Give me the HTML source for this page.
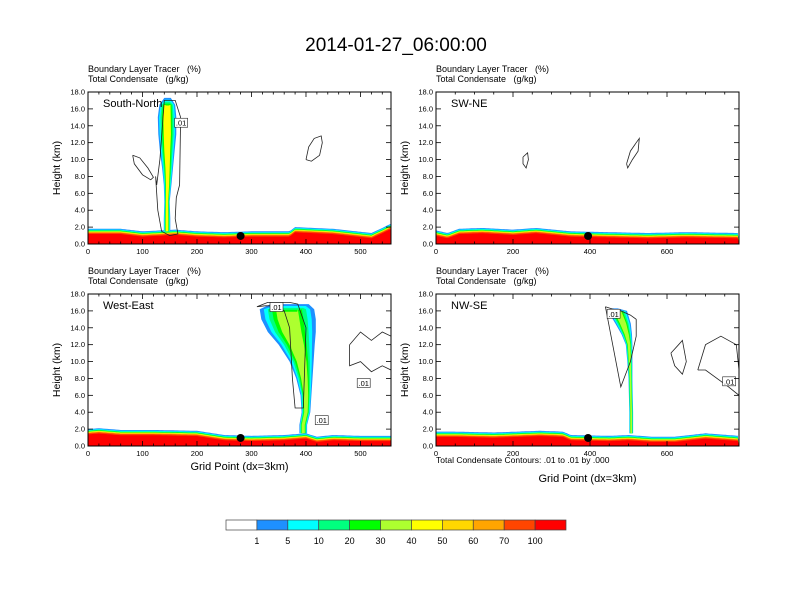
<!DOCTYPE html>
<html><head><meta charset="utf-8">
<style>
html,body{margin:0;padding:0;background:#fff;}
svg{display:block;font-family:"Liberation Sans",Arial,sans-serif;}
</style></head>
<body>
<svg id="fig" width="792" height="612" viewBox="0 0 792 612">
<text x="396" y="51" font-size="19" text-anchor="middle">2014-01-27_06:00:00</text>
<text x="436" y="463" font-size="8.5">Total Condensate Contours: .01 to .01 by .000</text>
</svg>
<script>
// ---- data ----
const colorLevels = ["1","5","10","20","30","40","50","60","70","100"];
const colorFills = ["#ffffff","#1e90ff","#00ffff","#00ff7f","#00ff00","#adff2f","#ffff00","#ffd700","#ffa500","#ff4500","#ff0000"];
const yTicks = [0,2,4,6,8,10,12,14,16,18];
const panelNames = ["South-North","SW-NE","West-East","NW-SE"];
// boundary layer top (km) sampled along grid
const tlBLx = [0,60,100,130,160,200,250,300,370,380,450,520,540,556];
const tlBL  = [1.8,1.8,1.5,1.6,1.7,1.5,1.4,1.5,1.5,2.0,1.8,1.3,1.9,2.4];
const trBLx = [0,30,60,120,200,260,350,450,550,650,787];
const trBL  = [1.6,1.3,1.8,1.9,1.7,1.9,1.5,1.4,1.3,1.4,1.3];
const blBLx = [0,20,60,120,200,250,300,360,400,420,450,500,556];
const blBL  = [2.0,2.1,1.9,1.9,1.8,1.3,1.2,1.3,1.5,1.1,1.3,1.2,1.2];
const brBLx = [0,50,150,270,330,350,450,500,560,620,700,787];
const brBL  = [1.7,1.7,1.6,1.8,1.7,1.3,1.2,1.3,1.1,1.1,1.5,1.2];
// plumes
const tlPlumeZ = [1.5,3,5,7,9,11,13,15,16.5,17.3];
const tlPlumeL = [139,139,140,139,136,132,129,128,131,140];
const tlPlumeR = [151,151,150,153,156,159,162,162,160,152];
const blPlumeZ = [1.5,2.5,4,6,8,10,12,13.5,15,16.2,16.8];
const blPlumeL = [388,388,392,390,382,370,350,330,318,315,335];
const blPlumeR = [402,402,408,410,412,414,416,418,418,415,405];
const brPlumeZ = [1.5,4,8,10,12,13.2,14.5,16,16.3];
const brPlumeL = [502,502,500,497,493,482,466,446,456];
const brPlumeR = [512,512,510,510,510,509,506,496,472];
// contours (grid, km)
const tlC1x=[400,410,425,430,428,415,405,400], tlC1z=[10,9.8,10.5,12,12.8,12.5,11.5,10];
const tlC2x=[82,95,110,120,115,100,85,82], tlC2z=[10.5,10.2,9,7.9,7.6,8.2,9.5,10.5];
const tlC3x=[126,132,140,160,170,168,162,160,165,150,135,128,124,126], tlC3z=[7,10,17,17,15,7,5.5,3,1.2,1,1.5,4,8,7];
const trC1x=[226,238,240,234,226,226], trC1z=[10.3,10.8,10,9,9.5,10.3];
const trC2x=[495,505,520,528,525,510,498,495], trC2z=[9.5,11,12,12.5,11,10,9,9.5];
const blC1x=[310,325,340,350,360,370,375,380,395,400,385,370,330,310], blC1z=[16.5,16.6,16.6,16.4,16,14,8,4.5,4.5,14,16.8,17,17,16.5];
const blC2x=[480,500,520,540,556,556,540,520,500,480,480], blC2z=[12,13.5,12.5,13.5,13,9,9.5,8.8,10,9.5,12];
const brC1x=[440,460,480,505,520,520,505,480,440], brC1z=[16.5,16.2,16,15.5,15,13,10,7,16.5];
const brC2x=[610,630,640,650,640,620,610], brC2z=[11,12,12.5,10,8.5,9.5,11];
const brC3x=[680,700,740,780,787,787,760,700,680], brC3z=[9,12,13,12,9,6,7,9,9];
const dotsX = [280,395,280,395];

// ---- helpers ----
const NS="http://www.w3.org/2000/svg";
const svg=document.getElementById('fig');
function mk(tag,attrs,parent){const e=document.createElementNS(NS,tag);for(const k in attrs)e.setAttribute(k,attrs[k]);(parent||svg).appendChild(e);return e;}
function interp(xs,ys,x){if(x<=xs[0])return ys[0];for(let i=1;i<xs.length;i++){if(x<=xs[i]){const t=(x-xs[i-1])/(xs[i]-xs[i-1]);return ys[i-1]+t*(ys[i]-ys[i-1]);}}return ys[ys.length-1];}

const panels=[
 {x0:88,y0:92,xmax:556,major:100,minor:20,blx:tlBLx,bl:tlBL,pz:tlPlumeZ,pl:tlPlumeL,pr:tlPlumeR,cont:[[tlC1x,tlC1z],[tlC2x,tlC2z],[tlC3x,tlC3z]],xl:false,lab:[[170,14.3]]},
 {x0:436,y0:92,xmax:787,major:200,minor:50,blx:trBLx,bl:trBL,pz:null,cont:[[trC1x,trC1z],[trC2x,trC2z]],xl:false,lab:[]},
 {x0:88,y0:294,xmax:556,major:100,minor:20,blx:blBLx,bl:blBL,pz:blPlumeZ,pl:blPlumeL,pr:blPlumeR,cont:[[blC1x,blC1z],[blC2x,blC2z]],xl:true,lab:[[345,16.4],[505,7.4],[428,3]]},
 {x0:436,y0:294,xmax:787,major:200,minor:50,blx:brBLx,bl:brBL,pz:brPlumeZ,pl:brPlumeL,pr:brPlumeR,cont:[[brC1x,brC1z],[brC2x,brC2z],[brC3x,brC3z]],xl:true,lab:[[460,15.6],[760,7.6]]}
];
const W=303,H=152;
panels.forEach((p,pi)=>{
  const g=mk('g',{});
  
  
  const sx=v=>p.x0+v/p.xmax*W, sy=z=>p.y0+H-z/18*H;
  const cp=mk('clipPath',{id:'cp'+pi},g);mk('rect',{x:p.x0,y:p.y0,width:W,height:H},cp);
  const plot=mk('g',{'clip-path':'url(#cp'+pi+')'},g);
  const offs=[0,0.1,0.18,0.24,0.3,0.34,0.38,0.42,0.48,0.62];
  const fills=colorFills.slice(1);
  offs.forEach((o,k)=>{
    let d='M'+sx(0)+','+sy(0);
    for(let gx=0;gx<=p.xmax;gx+=4){d+=' L'+sx(gx).toFixed(1)+','+sy(Math.max(0,interp(p.blx,p.bl,gx)-o)).toFixed(1);}
    d+=' L'+sx(p.xmax)+','+sy(0)+'Z';
    const b=mk('path',{d:d,fill:fills[k]},plot);
    
    
  });
  if(p.pz){
    const shrink=[1,0.85,0.7,0.55,0.4];
    const pf=['#1e90ff','#00ffff','#00ff7f','#00ff00',pi==0?'#ffff00':'#adff2f'];
    shrink.forEach((s,k)=>{
      let L=[],R=[];
      p.pz.forEach((z,i)=>{const c=(p.pl[i]+p.pr[i])/2,h=(p.pr[i]-p.pl[i])/2*s;const dz=(i==p.pz.length-1)?(1-s)*1.5:0;L.push([sx(c-h),sy(z-dz)]);R.push([sx(c+h),sy(z-dz)]);});
      const pts=L.concat(R.reverse()).map(q=>q[0].toFixed(1)+','+q[1].toFixed(1)).join(' ');
      const pl=mk('polygon',{points:pts,fill:pf[k]},plot);
      
      
    });
  }
  p.cont.forEach((c,ci)=>{
    const pts=c[0].map((x,i)=>sx(x).toFixed(1)+','+sy(c[1][i]).toFixed(1)).join(' ');
    const l=mk('polyline',{points:pts,fill:'none',stroke:'#222','stroke-width':0.8},plot);
    
    
  });
  p.lab.forEach(q=>{
    mk('rect',{x:sx(q[0])-6,y:sy(q[1])-5,width:13,height:9,fill:'#fff',stroke:'#222','stroke-width':0.6},plot);
    const t=mk('text',{x:sx(q[0])+0.5,y:sy(q[1])+2.5,'font-size':7.5,'text-anchor':'middle'},plot);t.textContent='.01';
    
    
  });
  const dot=mk('circle',{cx:sx(dotsX[pi]),cy:sy(0.95),r:4,fill:'#000'},g);
  
  
  mk('rect',{x:p.x0,y:p.y0,width:W,height:H,fill:'none',stroke:'#000','stroke-width':1},g);
  yTicks.forEach(z=>{
    const y=sy(z);
    mk('line',{x1:p.x0,x2:p.x0+5,y1:y,y2:y,stroke:'#000','stroke-width':0.8},g);
    mk('line',{x1:p.x0+W,x2:p.x0+W-5,y1:y,y2:y,stroke:'#000','stroke-width':0.8},g);
    const t=mk('text',{x:p.x0-3,y:y+2.5,'font-size':7.5,'text-anchor':'end'},g);t.textContent=z.toFixed(1);
    
    
  });
  for(let v=0;v<=p.xmax;v+=p.minor){
    const x=sx(v),len=(v%p.major==0)?5:2.5;
    mk('line',{x1:x,x2:x,y1:p.y0+H,y2:p.y0+H-len,stroke:'#000','stroke-width':0.8},g);
    mk('line',{x1:x,x2:x,y1:p.y0,y2:p.y0+len,stroke:'#000','stroke-width':0.8},g);
    if(v%p.major==0){const t=mk('text',{x:x,y:p.y0+H+10,'font-size':7.5,'text-anchor':'middle'},g);t.textContent=v;
      
      }
  }
  const yt=mk('text',{x:0,y:0,'font-size':10.5,'text-anchor':'middle',transform:'translate('+(p.x0-28)+','+(p.y0+H/2)+') rotate(-90)'},g);yt.textContent='Height (km)';
  
  
  const t1=mk('text',{x:p.x0,y:p.y0-20,'font-size':9,'xml:space':'preserve'},g);t1.textContent='Boundary Layer Tracer\u00a0\u00a0\u00a0(%)';
  
  
  const t2=mk('text',{x:p.x0,y:p.y0-10,'font-size':9},g);t2.textContent='Total Condensate\u00a0\u00a0\u00a0(g/kg)';
  
  
  const pn=mk('text',{x:p.x0+15,y:p.y0+15,'font-size':11},g);pn.textContent=panelNames[pi];
  
  
  if(p.xl){const xt=mk('text',{x:p.x0+W/2,y:pi==3?482:470,'font-size':11,'text-anchor':'middle'},g);xt.textContent='Grid Point (dx=3km)';
    
    }
});
const cb=mk('g',{});


const cbX=226,cbW=340/colorFills.length;
colorFills.forEach((c,i)=>{
  const r=mk('rect',{x:cbX+i*cbW,y:520,width:cbW,height:10,fill:c,stroke:'#444','stroke-width':0.7},cb);
  
  
});
colorLevels.forEach((l,i)=>{
  const t=mk('text',{x:cbX+(i+1)*cbW,y:544,'font-size':9,'text-anchor':'middle'},cb);t.textContent=l;
  
  
});
</script>
</body></html>
